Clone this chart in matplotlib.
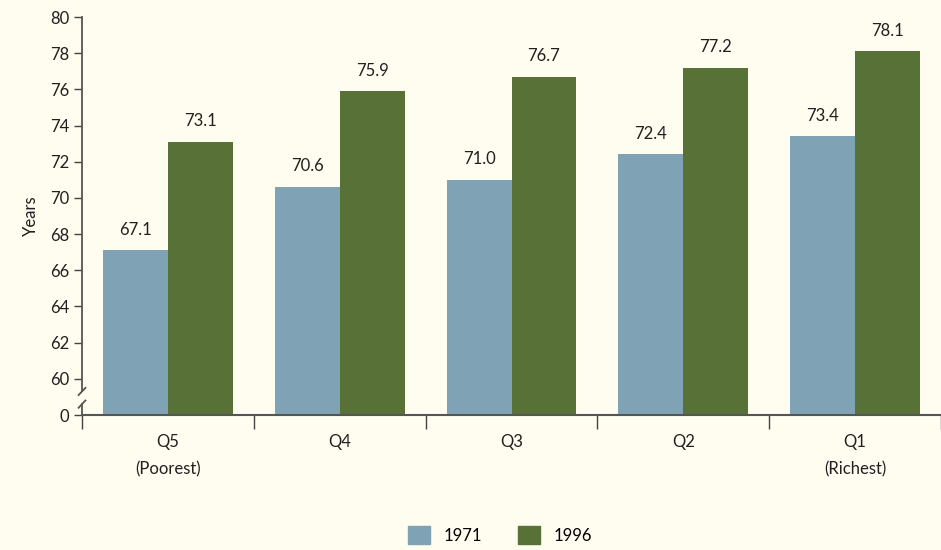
import numpy as np
import matplotlib.pyplot as plt
from matplotlib.patches import Patch

# Data
categories = ['Q5\n(Poorest)', 'Q4', 'Q3', 'Q2', 'Q1\n(Richest)']
years = ['1971', '1996']
life_1971 = [67.1, 70.6, 71.0, 72.4, 73.4]
life_1996 = [73.1, 75.9, 76.7, 77.2, 78.1]
ytick_vals = [0] + list(range(60, 81, 2))

# broken axis: 0 is drawn one step below 60
BASE = 58

bg = '#FFFCF0'
c71 = '#7FA3B5'
c96 = '#587137'
txt = '#231F20'

plt.rcParams['font.family'] = ['Lato', 'DejaVu Sans']

fig = plt.figure(figsize=(9.41, 5.5), dpi=100, facecolor=bg)
ax = fig.add_axes([82/941, 135/550, 859/941, 398/550])
ax.set_facecolor(bg)

x = np.arange(len(categories))
w = 0.378
ax.bar(x - w/2, np.array(life_1971) - BASE, w, bottom=BASE, color=c71)
ax.bar(x + w/2, np.array(life_1996) - BASE, w, bottom=BASE, color=c96)

for xs, vals in [(x - w/2, life_1971), (x + w/2, life_1996)]:
    for xi, v in zip(xs, vals):
        ax.text(xi, v + 0.7, f'{v:.1f}', ha='center', va='bottom',
                fontsize=12, color=txt)

ax.set_xlim(-0.5, len(categories) - 0.5)
ax.set_ylim(BASE, 80)

ax.set_yticks([BASE if v == 0 else v for v in ytick_vals])
ax.set_yticklabels([str(v) for v in ytick_vals], fontsize=12, color=txt)
ax.tick_params(axis='y', direction='out', length=6, width=1, color='#444444', pad=3)

ax.set_xticks(np.arange(-0.5, len(categories) - 0.4, 1))
ax.set_xticklabels([])
ax.set_xticks(x, minor=True)
ax.set_xticklabels(categories, minor=True, fontsize=12, color=txt, linespacing=1.85)
ax.tick_params(axis='x', which='major', direction='out', length=10, width=1, color='#444444')
ax.tick_params(axis='x', which='minor', length=0, pad=14)

for s in ['top', 'right', 'left']:
    ax.spines[s].set_visible(False)
ax.spines['bottom'].set_color('#555555')
ax.spines['bottom'].set_linewidth(1.5)

# left spine with break
sp = dict(color='#555555', lw=1.3, clip_on=False)
ax.plot([-0.5, -0.5], [59.3, 80], **sp)
ax.plot([-0.5, -0.5], [BASE, 58.6], **sp)
dx, dy = 0.02, 0.2
ax.plot([-0.5 - dx, -0.5 + dx], [59.3 - dy, 59.3 + dy], **sp)
ax.plot([-0.5 - dx, -0.5 + dx], [58.6 - dy, 58.6 + dy], **sp)

ax.set_ylabel('Years', fontsize=12, color=txt, labelpad=8)

handles = [Patch(color=c71, label=years[0]), Patch(color=c96, label=years[1])]
fig.legend(handles=handles, loc='center', bbox_to_anchor=(500/941, 1 - 535/550),
           ncol=2, frameon=False, fontsize=12, handlelength=1.3, handleheight=1.3,
           columnspacing=2.2, handletextpad=0.8)

fig.savefig('out.png', dpi=100, facecolor=bg)
